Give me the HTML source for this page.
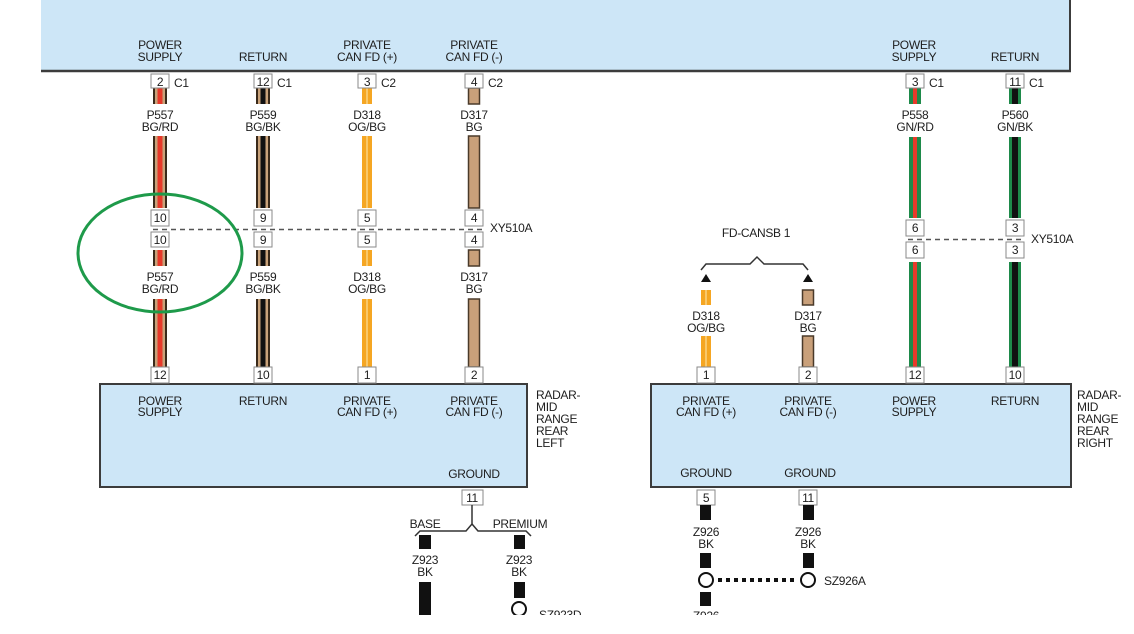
<!DOCTYPE html>
<html><head><meta charset="utf-8"><style>
html,body{margin:0;padding:0;background:#fff;width:1134px;height:634px;overflow:hidden}
text{font-family:"Liberation Sans",Arial,sans-serif;font-size:12px;letter-spacing:-0.3px;fill:#1e1e1e;text-anchor:middle}
.l{text-anchor:start}
</style></head><body>
<svg width="1134" height="634" viewBox="0 0 1134 634" xmlns="http://www.w3.org/2000/svg">
<!-- top box -->
<rect x="41" y="-2" width="1029" height="73" fill="#cde6f7"/>
<line x1="41" y1="71" x2="1071" y2="71" stroke="#3c3c3c" stroke-width="2.5"/>
<line x1="1070" y1="0" x2="1070" y2="72" stroke="#3c3c3c" stroke-width="2"/>
<g>
<text x="160" y="49">POWER</text><text x="160" y="61">SUPPLY</text>
<text x="263" y="61">RETURN</text>
<text x="367" y="49">PRIVATE</text><text x="367" y="61">CAN FD (+)</text>
<text x="474" y="49">PRIVATE</text><text x="474" y="61">CAN FD (-)</text>
<text x="914" y="49">POWER</text><text x="914" y="61">SUPPLY</text>
<text x="1015" y="61">RETURN</text>
</g>
<!-- lower boxes -->
<rect x="100" y="384" width="427" height="103" fill="#cde6f7" stroke="#3c3c3c" stroke-width="2"/>
<rect x="651" y="384" width="420" height="103" fill="#cde6f7" stroke="#3c3c3c" stroke-width="2"/>
<text x="160" y="405">POWER</text><text x="160" y="416">SUPPLY</text>
<text x="263" y="405">RETURN</text>
<text x="367" y="405">PRIVATE</text><text x="367" y="416">CAN FD (+)</text>
<text x="474" y="405">PRIVATE</text><text x="474" y="416">CAN FD (-)</text>
<text x="474" y="478">GROUND</text>
<text class="l" x="536" y="399">RADAR-</text><text class="l" x="536" y="411">MID</text><text class="l" x="536" y="423">RANGE</text><text class="l" x="536" y="435">REAR</text><text class="l" x="536" y="447">LEFT</text>
<text x="706" y="405">PRIVATE</text><text x="706" y="416">CAN FD (+)</text>
<text x="808" y="405">PRIVATE</text><text x="808" y="416">CAN FD (-)</text>
<text x="914" y="405">POWER</text><text x="914" y="416">SUPPLY</text>
<text x="1015" y="405">RETURN</text>
<text x="706" y="477">GROUND</text><text x="810" y="477">GROUND</text>
<text class="l" x="1077" y="399">RADAR-</text><text class="l" x="1077" y="411">MID</text><text class="l" x="1077" y="423">RANGE</text><text class="l" x="1077" y="435">REAR</text><text class="l" x="1077" y="447">RIGHT</text>

<!-- P557 -->
<g>
<rect x="153" y="88" width="14" height="16" fill="#3a2a1a"/><rect x="155" y="88" width="10" height="16" fill="#c9a27a"/><rect x="157.5" y="88" width="5" height="16" fill="#e8392a"/>
<rect x="153" y="136" width="14" height="72" fill="#3a2a1a"/><rect x="155" y="136" width="10" height="72" fill="#c9a27a"/><rect x="157.5" y="136" width="5" height="72" fill="#e8392a"/>
<rect x="153" y="250" width="14" height="16" fill="#3a2a1a"/><rect x="155" y="250" width="10" height="16" fill="#c9a27a"/><rect x="157.5" y="250" width="5" height="16" fill="#e8392a"/>
<rect x="153" y="299" width="14" height="68" fill="#3a2a1a"/><rect x="155" y="299" width="10" height="68" fill="#c9a27a"/><rect x="157.5" y="299" width="5" height="68" fill="#e8392a"/>
</g>
<g transform="translate(103,0)">
<rect x="153" y="88" width="14" height="16" fill="#3a2a1a"/><rect x="155" y="88" width="10" height="16" fill="#c9a27a"/><rect x="157.5" y="88" width="5" height="16" fill="#111"/>
<rect x="153" y="136" width="14" height="72" fill="#3a2a1a"/><rect x="155" y="136" width="10" height="72" fill="#c9a27a"/><rect x="157.5" y="136" width="5" height="72" fill="#111"/>
<rect x="153" y="250" width="14" height="16" fill="#3a2a1a"/><rect x="155" y="250" width="10" height="16" fill="#c9a27a"/><rect x="157.5" y="250" width="5" height="16" fill="#111"/>
<rect x="153" y="299" width="14" height="68" fill="#3a2a1a"/><rect x="155" y="299" width="10" height="68" fill="#c9a27a"/><rect x="157.5" y="299" width="5" height="68" fill="#111"/>
</g>
<g fill="#f5a623">
<rect x="362" y="88" width="10" height="16"/><rect x="362" y="136" width="10" height="72"/><rect x="362" y="250" width="10" height="16"/><rect x="362" y="299" width="10" height="68"/>
<rect x="701" y="290" width="10" height="15"/><rect x="701" y="336" width="10" height="31"/>
</g>
<g fill="#f9c86a">
<rect x="366" y="88" width="2" height="16"/><rect x="366" y="136" width="2" height="72"/><rect x="366" y="250" width="2" height="16"/><rect x="366" y="299" width="2" height="68"/>
<rect x="705" y="290" width="2" height="15"/><rect x="705" y="336" width="2" height="31"/>
</g>
<g fill="#c9a07a" stroke="#4a3a2a" stroke-width="1.5">
<rect x="468.5" y="88" width="11" height="16"/><rect x="468.5" y="136" width="11" height="72"/><rect x="468.5" y="250" width="11" height="16"/><rect x="468.5" y="299" width="11" height="68"/>
<rect x="802.5" y="290" width="11" height="15"/><rect x="802.5" y="336" width="11" height="31"/>
</g>
<g>
<rect x="909" y="88" width="12" height="16" fill="#1e8a4a"/><rect x="913" y="88" width="4" height="16" fill="#e8392a"/>
<rect x="909" y="137" width="12" height="81" fill="#1e8a4a"/><rect x="913" y="137" width="4" height="81" fill="#e8392a"/>
<rect x="909" y="262" width="12" height="105" fill="#1e8a4a"/><rect x="913" y="262" width="4" height="105" fill="#e8392a"/>
<rect x="1009" y="88" width="12" height="16" fill="#1e8a4a"/><rect x="1012" y="88" width="6" height="16" fill="#111"/>
<rect x="1009" y="137" width="12" height="81" fill="#1e8a4a"/><rect x="1012" y="137" width="6" height="81" fill="#111"/>
<rect x="1009" y="262" width="12" height="105" fill="#1e8a4a"/><rect x="1012" y="262" width="6" height="105" fill="#111"/>
</g>
<text x="160" y="119">P557</text><text x="160" y="131">BG/RD</text>
<text x="263" y="119">P559</text><text x="263" y="131">BG/BK</text>
<text x="367" y="119">D318</text><text x="367" y="131">OG/BG</text>
<text x="474" y="119">D317</text><text x="474" y="131">BG</text>
<text x="160" y="281">P557</text><text x="160" y="293">BG/RD</text>
<text x="263" y="281">P559</text><text x="263" y="293">BG/BK</text>
<text x="367" y="281">D318</text><text x="367" y="293">OG/BG</text>
<text x="474" y="281">D317</text><text x="474" y="293">BG</text>
<text x="915" y="119">P558</text><text x="915" y="131">GN/RD</text>
<text x="1015" y="119">P560</text><text x="1015" y="131">GN/BK</text>
<text x="706" y="320">D318</text><text x="706" y="332">OG/BG</text>
<text x="808" y="320">D317</text><text x="808" y="332">BG</text>
<g fill="#fff" stroke="#8a8a8a" stroke-width="1">
<rect x="151" y="74" width="18" height="14"/><rect x="254" y="74" width="18" height="14"/><rect x="358" y="74" width="18" height="14"/><rect x="465" y="74" width="18" height="14"/>
<rect x="906" y="74" width="18" height="14"/><rect x="1006" y="74" width="18" height="14"/>
<rect x="151" y="210" width="18" height="16"/><rect x="254" y="210" width="18" height="16"/><rect x="358" y="210" width="18" height="16"/><rect x="465" y="210" width="18" height="16"/>
<rect x="151" y="232" width="18" height="15"/><rect x="254" y="232" width="18" height="15"/><rect x="358" y="232" width="18" height="15"/><rect x="465" y="232" width="18" height="15"/>
<rect x="906" y="220" width="18" height="16"/><rect x="1006" y="220" width="18" height="16"/>
<rect x="906" y="242" width="18" height="16"/><rect x="1006" y="242" width="18" height="16"/>
<rect x="151" y="367" width="18" height="16"/><rect x="254" y="367" width="18" height="16"/><rect x="358" y="367" width="18" height="16"/><rect x="465" y="367" width="18" height="16"/>
<rect x="697" y="367" width="18" height="16"/><rect x="799" y="367" width="18" height="16"/><rect x="906" y="367" width="18" height="16"/><rect x="1006" y="367" width="18" height="16"/>
<rect x="462" y="490" width="21" height="15"/><rect x="697" y="490" width="18" height="15"/><rect x="799" y="490" width="18" height="15"/>
</g>
<g>
<text x="160" y="86">2</text><text x="263" y="86">12</text><text x="367" y="86">3</text><text x="474" y="86">4</text>
<text x="915" y="86">3</text><text x="1015" y="86">11</text>
<text class="l" x="174" y="87">C1</text><text class="l" x="277" y="87">C1</text><text class="l" x="381" y="87">C2</text><text class="l" x="488" y="87">C2</text>
<text class="l" x="929" y="87">C1</text><text class="l" x="1029" y="87">C1</text>
<text x="160" y="222">10</text><text x="263" y="222">9</text><text x="367" y="222">5</text><text x="474" y="222">4</text>
<text x="160" y="244">10</text><text x="263" y="244">9</text><text x="367" y="244">5</text><text x="474" y="244">4</text>
<text x="915" y="232">6</text><text x="1015" y="232">3</text>
<text x="915" y="254">6</text><text x="1015" y="254">3</text>
<text x="160" y="379">12</text><text x="263" y="379">10</text><text x="367" y="379">1</text><text x="474" y="379">2</text>
<text x="706" y="379">1</text><text x="808" y="379">2</text><text x="915" y="379">12</text><text x="1015" y="379">10</text>
<text x="472" y="502">11</text><text x="706" y="502">5</text><text x="808" y="502">11</text>
</g>
<line x1="153" y1="229.5" x2="482" y2="229.5" stroke="#555" stroke-width="1.5" stroke-dasharray="5,4"/>
<line x1="908" y1="239.5" x2="1022" y2="239.5" stroke="#555" stroke-width="1.5" stroke-dasharray="5,4"/>
<text class="l" x="490" y="232">XY510A</text>
<text class="l" x="1031" y="243">XY510A</text>
<text x="756" y="237">FD-CANSB 1</text>
<path d="M701,270 L706,264 L750,264 L757,257 L764,264 L803,264 L808,270" fill="none" stroke="#333" stroke-width="1.5"/>
<polygon points="706,274 701,282 711,282" fill="#111"/>
<polygon points="808,274 803,282 813,282" fill="#111"/>
<ellipse cx="160" cy="253" rx="82" ry="59" fill="none" stroke="#1e9a4a" stroke-width="3"/>
<path d="M472,505 L472,524 L466,531 L420,531 L415,536" fill="none" stroke="#333" stroke-width="1.5"/>
<path d="M472,524 L478,531 L526,531 L531,536" fill="none" stroke="#333" stroke-width="1.5"/>
<text x="425" y="528">BASE</text><text x="520" y="528">PREMIUM</text>
<g fill="#111">
<rect x="419" y="535" width="12" height="14"/><rect x="419" y="582" width="12" height="40"/>
<rect x="514" y="535" width="11" height="14"/><rect x="514" y="582" width="11" height="16"/>
<rect x="700" y="505" width="11" height="15"/><rect x="803" y="505" width="11" height="15"/>
<rect x="700" y="553" width="11" height="15"/><rect x="803" y="553" width="11" height="15"/>
<rect x="700" y="592" width="11" height="14"/>
</g>
<text x="425" y="564">Z923</text><text x="425" y="576">BK</text>
<text x="519" y="564">Z923</text><text x="519" y="576">BK</text>
<circle cx="519" cy="609" r="7" fill="#fff" stroke="#111" stroke-width="2"/>
<text class="l" x="539" y="619">SZ923D</text>
<text x="706" y="536">Z926</text><text x="706" y="548">BK</text>
<text x="808" y="536">Z926</text><text x="808" y="548">BK</text>
<line x1="718" y1="580" x2="797" y2="580" stroke="#111" stroke-width="4" stroke-dasharray="4,4"/>
<circle cx="706" cy="580" r="7" fill="#fff" stroke="#111" stroke-width="2"/>
<circle cx="808" cy="580" r="7" fill="#fff" stroke="#111" stroke-width="2"/>
<text class="l" x="824" y="585">SZ926A</text>
<text x="706" y="620">Z926</text>
<rect x="0" y="615" width="1134" height="19" fill="#fff"/>
</svg>
</body></html>
